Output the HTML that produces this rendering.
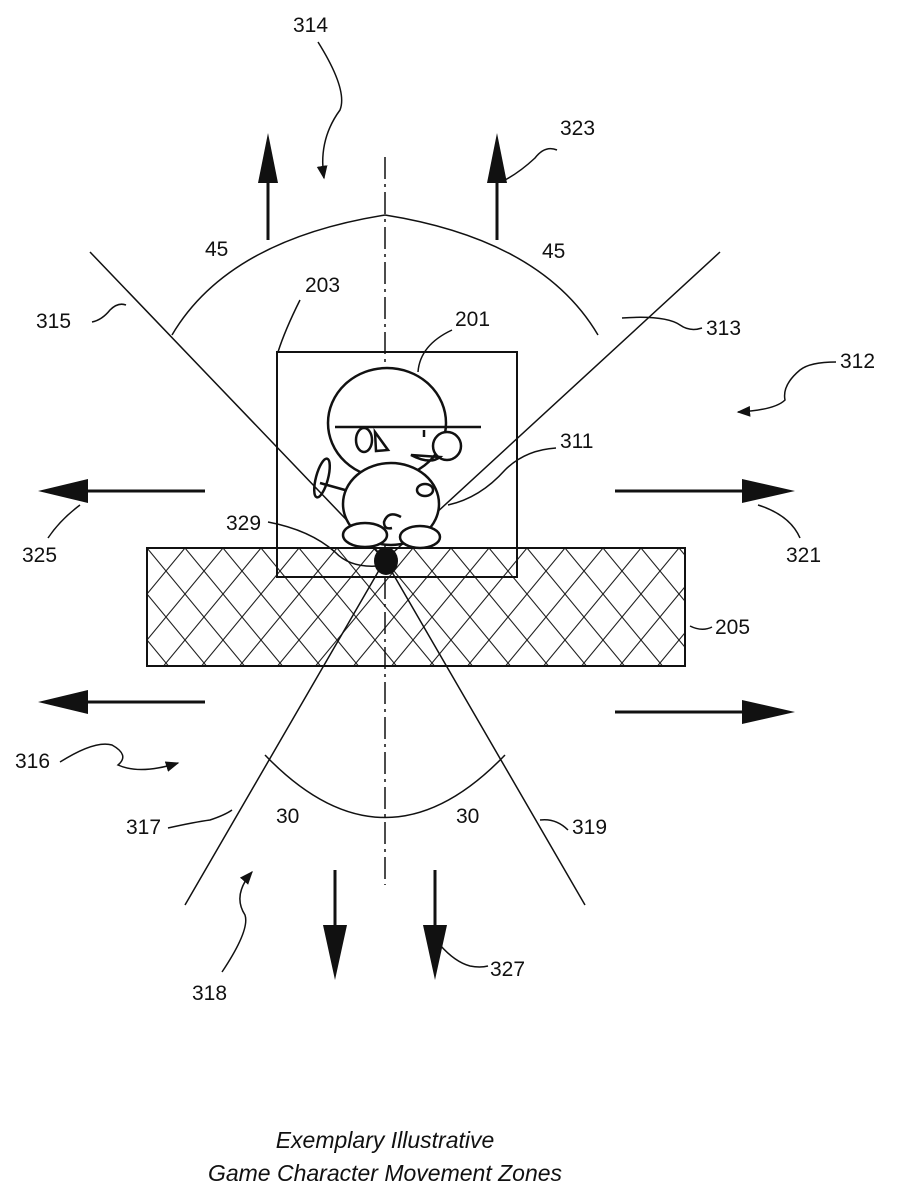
<!DOCTYPE html>
<html><head><style>body{margin:0;background:#fff}svg{display:block}text{font-family:"Liberation Sans",sans-serif;font-size:21px;fill:#111}</style></head>
<body>
<svg width="899" height="1200" viewBox="0 0 899 1200" xmlns="http://www.w3.org/2000/svg">
<defs>
<pattern id="hatch" width="38" height="46" patternUnits="userSpaceOnUse" x="147" y="548">
<path d="M0 0L38 46M38 0L0 46M-19 23L19 69M19 -23L57 23M-19 23L19 -23M19 69L57 23" stroke="#222" stroke-width="1.1" fill="none"/>
</pattern>
<marker id="ah" viewBox="0 0 10 10" refX="9" refY="5" markerWidth="9" markerHeight="9" orient="auto"><path d="M0 1L10 5L0 9Z" fill="#111"/></marker>
</defs>
<g fill="none" stroke="#111" stroke-width="1.5">
<rect x="147" y="548" width="538" height="118" fill="url(#hatch)" stroke-width="2"/>
<rect x="277" y="352" width="240" height="225" stroke-width="2"/>
<path d="M385 157V885" stroke-dasharray="22,5,3,5"/>
<path d="M90 252L385 560L720 252"/>
<path d="M185 905L385 560L585 905"/>
<path d="M172 335Q228 240 385 215Q542 240 598 335"/>
<path d="M265 755Q385 880 505 755"/>
<g stroke-width="2.5">
<ellipse cx="387" cy="423" rx="59" ry="55" fill="#fff"/>
<path d="M335 427H481"/>
<ellipse cx="364" cy="440" rx="8" ry="12"/>
<path d="M375 432L388 450L376 451Z"/>
<path d="M424 430v7"/>
<circle cx="447" cy="446" r="14" fill="#fff"/>
<path d="M411 455Q430 465 440 457Z"/>
<ellipse cx="391" cy="504" rx="48" ry="41" fill="#fff"/>
<ellipse cx="425" cy="490" rx="8" ry="6"/>
<path d="M345 490L320 483"/>
<ellipse cx="322" cy="478" rx="6" ry="20" transform="rotate(15 322 478)"/>
<path d="M401 517Q388 510 384 522Q384 530 392 528"/>
<ellipse cx="365" cy="535" rx="22" ry="12" fill="#fff"/>
<ellipse cx="420" cy="537" rx="20" ry="11" fill="#fff"/>
</g>
<!-- leaders -->
<path d="M318 42Q348 90 340 110Q318 140 324 178" marker-end="url(#ah)"/>
<path d="M557 150Q545 145 535 158Q520 172 505 180"/>
<path d="M92 322Q102 320 110 310Q118 302 126 305"/>
<path d="M702 328Q690 332 680 325Q665 315 622 318"/>
<path d="M300 300Q285 330 278 352"/>
<path d="M452 330Q420 345 418 372"/>
<path d="M836 362Q810 362 800 370Q782 385 785 400Q775 410 738 412" marker-end="url(#ah)"/>
<path d="M556 448Q525 450 505 470Q480 498 448 505"/>
<path d="M268 522Q310 530 335 552Q350 568 378 566"/>
<path d="M80 505Q60 520 48 538"/>
<path d="M758 505Q790 515 800 538"/>
<path d="M690 626Q702 632 712 627"/>
<path d="M60 762Q95 740 112 745Q130 755 118 765Q140 775 178 763" marker-end="url(#ah)"/>
<path d="M168 828Q195 822 210 820Q225 815 232 810"/>
<path d="M540 820Q556 818 568 830"/>
<path d="M222 972Q250 930 245 915Q232 895 252 872" marker-end="url(#ah)"/>
<path d="M440 945Q455 962 470 966Q480 968 488 966"/>
</g>
<g stroke="#111" stroke-width="3">
<path d="M268 240V180M497 240V180M205 491H85M615 491H745M205 702H85M615 712H745M335 870V932M435 870V932"/>
</g>
<g fill="#111">
<path d="M258 183L268 133L278 183Z"/>
<path d="M487 183L497 133L507 183Z"/>
<path d="M88 479L38 491L88 503Z"/>
<path d="M742 479L795 491L742 503Z"/>
<path d="M88 690L38 702L88 714Z"/>
<path d="M742 700L795 712L742 724Z"/>
<path d="M323 925L335 980L347 925Z"/>
<path d="M423 925L435 980L447 925Z"/>
<ellipse cx="386" cy="561" rx="12" ry="14"/>
</g>
<text x="293" y="32">314</text>
<text x="560" y="135">323</text>
<text x="205" y="256">45</text>
<text x="542" y="258">45</text>
<text x="305" y="292">203</text>
<text x="455" y="326">201</text>
<text x="36" y="328">315</text>
<text x="706" y="335">313</text>
<text x="840" y="368">312</text>
<text x="560" y="448">311</text>
<text x="226" y="530">329</text>
<text x="22" y="562">325</text>
<text x="786" y="562">321</text>
<text x="715" y="634">205</text>
<text x="15" y="768">316</text>
<text x="126" y="834">317</text>
<text x="276" y="823">30</text>
<text x="456" y="823">30</text>
<text x="572" y="834">319</text>
<text x="490" y="976">327</text>
<text x="192" y="1000">318</text>
<text x="385" y="1148" text-anchor="middle" style="font-style:italic;font-size:23px">Exemplary Illustrative</text>
<text x="385" y="1181" text-anchor="middle" style="font-style:italic;font-size:23px">Game Character Movement Zones</text>
</svg>
</body></html>
